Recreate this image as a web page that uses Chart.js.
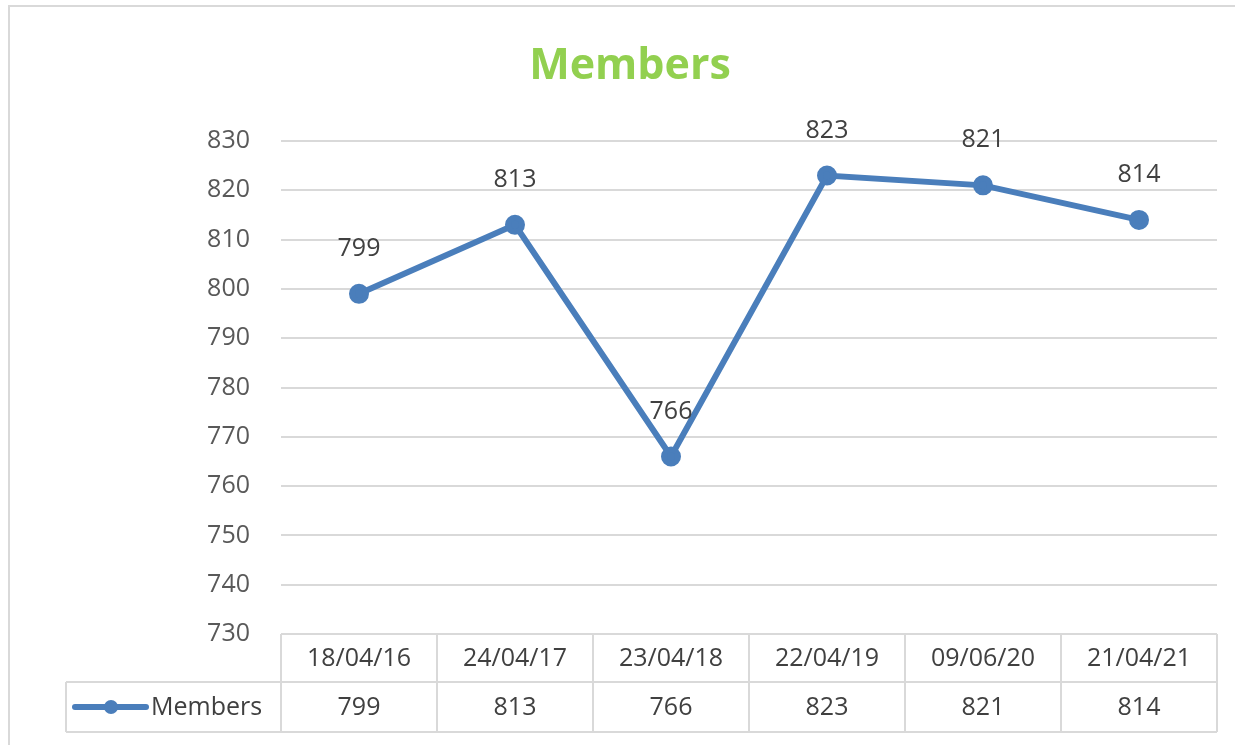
<!DOCTYPE html>
<html>
<head>
<meta charset="utf-8">
<script src="https://cdn.jsdelivr.net/npm/chart.js@4/dist/chart.umd.min.js"></script>
<style>
    html, body { margin: 0; padding: 0; background: #fff; }
    #wrap { position: relative; width: 1235px; height: 745px; overflow: hidden; }
    #frame { position: absolute; left: 8px; top: 5px; width: 1240px; height: 760px; border: 2px solid #d9d9d9; box-sizing: border-box; }
    canvas { position: absolute; left: 0; top: 0; }
</style>
</head>
<body>
<div id="wrap">
    <div id="frame"></div>
    <canvas id="chart" width="1235" height="745"></canvas>
</div>
<script>
const chartTitle = 'Members';
const seriesName = 'Members';
const dates = ['18/04/16', '24/04/17', '23/04/18', '22/04/19', '09/06/20', '21/04/21'];
const members = [799, 813, 766, 823, 821, 814];
const yTicks = [730, 740, 750, 760, 770, 780, 790, 800, 810, 820, 830];

const lineColor = '#4a7ebb';
const textColor = '#404040';
const gridColor = '#d9d9d9';
const fontName = '"Open Sans", "DejaVu Sans", sans-serif';

// titulo desenhado a mao para ficar na posicao certa
const titlePlugin = {
    id: 'titlePlugin',
    afterDraw(chart) {
        const ctx = chart.ctx;
        ctx.save();
        ctx.fillStyle = '#92d050';
        ctx.font = 'bold 43px ' + fontName;
        ctx.textAlign = 'center';
        ctx.textBaseline = 'middle';
        ctx.fillText(chartTitle, 630, 67);
        ctx.restore();
    }
};

// rotulos de dados acima dos pontos
const labelsPlugin = {
    id: 'labelsPlugin',
    afterDatasetsDraw(chart) {
        const ctx = chart.ctx;
        const meta = chart.getDatasetMeta(0);
        ctx.save();
        ctx.fillStyle = textColor;
        ctx.font = '25px ' + fontName;
        ctx.textAlign = 'center';
        ctx.textBaseline = 'middle';
        meta.data.forEach((pt, i) => {
            ctx.fillText(String(members[i]), pt.x, pt.y - 45);
        });
        ctx.restore();
    }
};

// tabela de dados abaixo do grafico
const tablePlugin = {
    id: 'tablePlugin',
    afterDraw(chart) {
        const ctx = chart.ctx;
        const area = chart.chartArea;
        const xScale = chart.scales.x;
        const colW = (area.right - area.left) / dates.length;
        const top = area.bottom;
        const mid = top + 48;
        const bottom = mid + 50;
        const legendLeft = 66;

        ctx.save();
        ctx.strokeStyle = gridColor;
        ctx.lineWidth = 2;
        ctx.beginPath();
        ctx.moveTo(area.left, top); ctx.lineTo(area.right, top);
        ctx.moveTo(legendLeft, mid); ctx.lineTo(area.right, mid);
        ctx.moveTo(legendLeft, bottom); ctx.lineTo(area.right, bottom);
        ctx.moveTo(legendLeft, mid); ctx.lineTo(legendLeft, bottom);
        for (let i = 0; i <= dates.length; i++) {
            const x = area.left + i * colW;
            ctx.moveTo(x, top); ctx.lineTo(x, bottom);
        }
        ctx.stroke();

        ctx.fillStyle = textColor;
        ctx.font = '25px ' + fontName;
        ctx.textAlign = 'center';
        ctx.textBaseline = 'middle';
        dates.forEach((d, i) => {
            const x = xScale.getPixelForValue(i);
            ctx.fillText(d, x, (top + mid) / 2 + 1);
            ctx.fillText(String(members[i]), x, (mid + bottom) / 2 + 1);
        });

        // chave da legenda
        const ly = (mid + bottom) / 2;
        ctx.strokeStyle = lineColor;
        ctx.lineWidth = 6;
        ctx.lineCap = 'round';
        ctx.beginPath();
        ctx.moveTo(75, ly); ctx.lineTo(146, ly);
        ctx.stroke();
        ctx.fillStyle = lineColor;
        ctx.beginPath();
        ctx.arc(111, ly, 7, 0, Math.PI * 2);
        ctx.fill();
        ctx.fillStyle = textColor;
        ctx.textAlign = 'left';
        ctx.fillText(seriesName, 151, ly + 1);
        ctx.restore();
    }
};

new Chart(document.getElementById('chart').getContext('2d'), {
    type: 'line',
    data: {
        labels: dates,
        datasets: [{
            label: seriesName,
            data: members,
            borderColor: lineColor,
            backgroundColor: lineColor,
            borderWidth: 6,
            pointRadius: 7,
            pointHoverRadius: 7,
            tension: 0,
            fill: false
        }]
    },
    options: {
        responsive: false,
        animation: false,
        layout: { padding: { top: 141, bottom: 111, left: 0, right: 18 } },
        plugins: {
            legend: { display: false },
            title: { display: false },
            tooltip: { enabled: false }
        },
        scales: {
            x: {
                type: 'category',
                display: false,
                offset: true
            },
            y: {
                min: 730,
                max: 830,
                afterFit(scale) { scale.width = 281; },
                afterBuildTicks(scale) { scale.ticks = yTicks.map(v => ({ value: v })); },
                border: { display: false },
                grid: { color: gridColor, lineWidth: 2, drawTicks: false },
                ticks: {
                    padding: 31,
                    color: '#595959',
                    font: { size: 25, family: fontName }
                }
            }
        }
    },
    plugins: [titlePlugin, labelsPlugin, tablePlugin]
});
</script>
</body>
</html>
